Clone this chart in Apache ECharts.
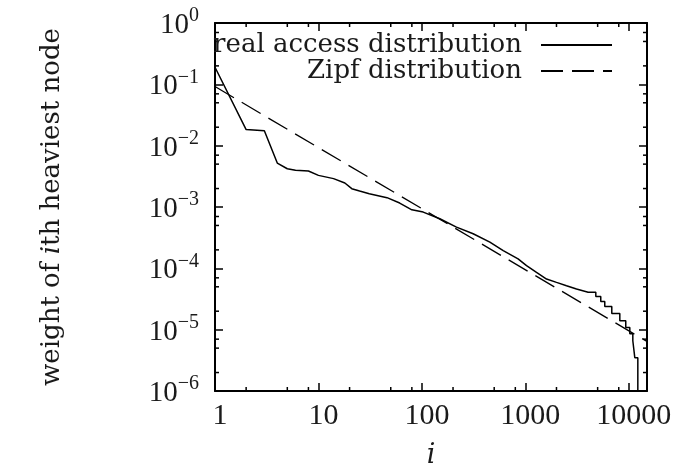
<!DOCTYPE html>
<html>
<head>
<meta charset="utf-8">
<script src="https://cdn.jsdelivr.net/npm/echarts@6/dist/echarts.min.js"></script>
<style>
html, body { margin: 0; padding: 0; background: #fff; }
#chart { width: 675px; height: 468px; }
</style>
</head>
<body>
<div id="chart"></div>
<script>
// real access distribution (rank, weight); the tail is a staircase
var realRank = [1, 2, 3, 4, 5, 6, 8, 10, 14, 18, 21, 25, 31, 46, 61, 80, 103, 149, 216, 313,
    454, 611, 851, 1027, 1282, 1603, 2001, 2500, 3124, 4045,
    4800, 4800, 5360, 5360, 5860, 5860, 6850, 6850, 8190, 8190,
    9350, 9350, 10230, 10230, 10940, 10940, 11430, 11430, 12230, 12230];
var realWeight = [0.19, 0.0183, 0.0175, 0.0052, 0.0042, 0.00396, 0.00386, 0.00328, 0.0029, 0.00246,
    0.00199, 0.00182, 0.00165, 0.00142, 0.00116, 0.0009, 0.000826, 0.000644, 0.00047, 0.000366,
    0.000267, 0.000195, 0.000143, 0.000111, 0.000086, 0.000067, 0.000059, 0.000052, 0.000046, 0.0000407,
    0.0000407, 0.0000346, 0.0000346, 0.0000287, 0.0000287, 0.0000238, 0.0000238, 0.0000183, 0.0000183, 0.000014,
    0.000014, 0.0000108, 0.0000108, 0.0000086, 0.0000086, 0.0000066, 0.0000066, 0.0000035, 0.0000035, 0.000001];

// Zipf distribution, a straight line in log-log
var zipfRank = [1, 15000];
var zipfWeight = [0.092, 0.0000064];

var xTickLabels = ['1', '10', '100', '1000', '10000'];
var yExponents = [0, -1, -2, -3, -4, -5, -6];
// minor ticks, where the original plot has them
var xMinorTicks = [2, 5, 8, 20, 50, 80, 200, 500, 800, 2000, 5000, 8000];
var yMinorTicks = [2e-6, 5e-6, 7e-6, 2e-5, 5e-5, 7e-5, 2e-4, 5e-4, 7e-4,
    2e-3, 5e-3, 7e-3, 2e-2, 5e-2, 7e-2, 0.2, 0.5, 0.7];

var numFont = 'Liberation Serif';
var textFont = 'DejaVu Serif';
var ink = '#1a1a1a';

function pairs(xs, ys) {
    var out = [];
    for (var i = 0; i < xs.length; i++) out.push([xs[i], ys[i]]);
    return out;
}

var frame = { show: true, onZero: false, lineStyle: { color: '#000', width: 2 } };
var tick = { show: true, inside: true, length: 8, lineStyle: { color: '#000', width: 1.5 } };

function tickLine(x1, y1, x2, y2) {
    return { type: 'line', shape: { x1: x1, y1: y1, x2: x2, y2: y2 }, style: { stroke: '#000', lineWidth: 1.5 } };
}

var legendText = { fontFamily: textFont, fontSize: 26, color: ink, lineHeight: 26, padding: [0, 14, 0, 0] };

var myChart = echarts.init(document.getElementById('chart'));
var option = {
    animation: false,
    backgroundColor: '#fff',
    grid: { left: 215, right: 28, top: 23, bottom: 77, outerBoundsMode: 'none' },
    legend: [
        {
            data: ['real access distribution'],
            right: 62, top: 32, padding: 0, align: 'right',
            itemWidth: 71, itemHeight: 10,
            itemStyle: { color: 'rgba(0,0,0,0)', borderWidth: 0 },
            textStyle: legendText
        },
        {
            data: ['Zipf distribution'],
            right: 62, top: 58, padding: 0, align: 'right',
            itemWidth: 71, itemHeight: 10,
            itemStyle: { color: 'rgba(0,0,0,0)', borderWidth: 0 },
            textStyle: legendText
        }
    ],
    xAxis: [
        {
            type: 'log', min: 1, max: 15000, position: 'bottom',
            axisLine: frame, axisTick: tick, splitLine: { show: false },
            axisLabel: {
                fontFamily: numFont, fontSize: 30, color: ink, margin: 10, showMaxLabel: false,
                padding: [0, 0, 0, 10],
                formatter: function (v) {
                    var e = Math.round(Math.log10(v));
                    if (Math.abs(Math.log10(v) - e) > 1e-6) return '';
                    return xTickLabels[e] || '';
                }
            },
            name: 'i', nameLocation: 'middle', nameGap: 51,
            nameTextStyle: { fontFamily: textFont, fontSize: 27, fontStyle: 'italic', color: ink }
        },
        {
            type: 'log', min: 1, max: 15000, position: 'top',
            axisLine: frame, axisTick: tick, splitLine: { show: false },
            axisLabel: { show: false }
        }
    ],
    yAxis: [
        {
            type: 'log', min: 0.000001, max: 1, position: 'left',
            axisLine: frame, axisTick: tick, splitLine: { show: false },
            axisLabel: {
                margin: 16,
                formatter: function (v) {
                    var e = Math.round(Math.log10(v));
                    if (yExponents.indexOf(e) < 0) return '';
                    return '{b|10}{s|' + (e < 0 ? '\u2212' + (-e) : e) + '}';
                },
                rich: {
                    b: { fontFamily: numFont, fontSize: 29, color: ink, lineHeight: 34, verticalAlign: 'bottom' },
                    s: { fontFamily: numFont, fontSize: 20, color: ink, lineHeight: 34, verticalAlign: 'top' }
                }
            },
            name: 'weight of {it|i}th heaviest node', nameLocation: 'middle', nameGap: 150,
            nameTextStyle: {
                fontFamily: textFont, fontSize: 26, color: ink,
                rich: { it: { fontFamily: textFont, fontSize: 26, fontStyle: 'italic', color: ink } }
            }
        },
        {
            type: 'log', min: 0.000001, max: 1, position: 'right',
            axisLine: frame, axisTick: tick, splitLine: { show: false },
            axisLabel: { show: false }
        }
    ],
    series: [
        {
            name: 'real access distribution', type: 'line', symbol: 'none',
            xAxisIndex: 0, yAxisIndex: 0,
            lineStyle: { color: '#000', width: 1.5 },
            itemStyle: { color: '#000' },
            data: pairs(realRank, realWeight)
        },
        {
            name: 'Zipf distribution', type: 'line', symbol: 'none',
            xAxisIndex: 0, yAxisIndex: 0,
            lineStyle: { color: '#000', width: 1.3, type: [22, 9] },
            itemStyle: { color: '#000' },
            data: pairs(zipfRank, zipfWeight)
        },
        {
            // minor ticks on bottom and top edges
            type: 'custom', xAxisIndex: 0, yAxisIndex: 0, silent: true,
            data: xMinorTicks.map(function (v) { return [v, 1]; }),
            renderItem: function (params, api) {
                var cs = params.coordSys;
                var px = api.coord([api.value(0), 1])[0];
                var bottom = cs.y + cs.height;
                return {
                    type: 'group',
                    children: [tickLine(px, bottom, px, bottom - 4), tickLine(px, cs.y, px, cs.y + 4)]
                };
            }
        },
        {
            // minor ticks on left and right edges
            type: 'custom', xAxisIndex: 0, yAxisIndex: 0, silent: true,
            data: yMinorTicks.map(function (v) { return [1, v]; }),
            renderItem: function (params, api) {
                var cs = params.coordSys;
                var py = api.coord([1, api.value(1)])[1];
                var right = cs.x + cs.width;
                return {
                    type: 'group',
                    children: [tickLine(cs.x, py, cs.x + 4, py), tickLine(right, py, right - 4, py)]
                };
            }
        }
    ]
};
myChart.setOption(option);
</script>
</body>
</html>
